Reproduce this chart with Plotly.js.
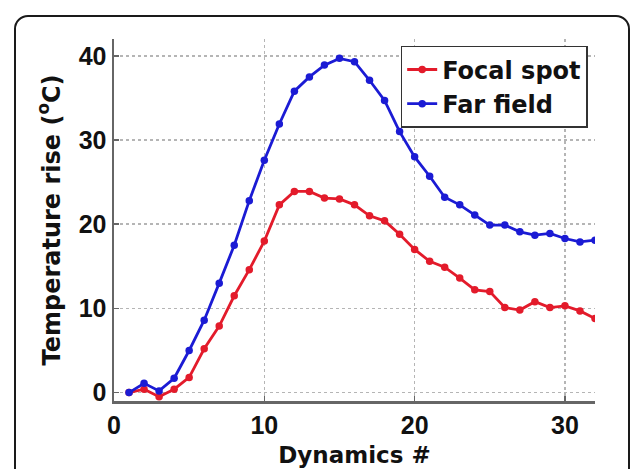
<!DOCTYPE html>
<html>
<head>
<meta charset="utf-8">
<script src="https://cdn.plot.ly/plotly-3.0.1.min.js"></script>
<style>
  html, body { margin: 0; padding: 0; background: #fff; }
  #wrap { position: relative; width: 637px; height: 469px; overflow: hidden; background: #fff; }
  #frame { position: absolute; left: 14px; top: 15px; width: 616px; height: 500px;
           border: 2px solid #1a1a1a; border-radius: 14px; box-sizing: border-box; }
  #chart { position: absolute; left: 0; top: 0; width: 637px; height: 469px; }
</style>
</head>
<body>
<div id="wrap">
  <div id="frame"></div>
  <div id="chart"></div>
</div>
<script>
const dynamics = [1,2,3,4,5,6,7,8,9,10,11,12,13,14,15,16,17,18,19,20,21,22,23,24,25,26,27,28,29,30,31,32];
const focalSpot = [0,0.4,-0.5,0.4,1.8,5.2,7.9,11.5,14.6,18.0,22.3,23.9,23.9,23.1,23.0,22.3,21.0,20.4,18.8,17.0,15.6,14.9,13.6,12.2,12.0,10.1,9.8,10.8,10.1,10.3,9.7,8.8];
const farField = [0,1.1,0.2,1.7,5.0,8.6,13.0,17.5,22.8,27.6,31.9,35.8,37.5,38.9,39.7,39.3,37.1,34.7,31.0,28.0,25.7,23.2,22.3,21.1,19.9,19.9,19.1,18.7,18.9,18.3,17.9,18.1];
const seriesNames = ["Focal spot", "Far field"];
const xTicks = [0,10,20,30];
const yTicks = [0,10,20,30,40];

const TICKFONT = "Liberation Sans, Arial, Helvetica, sans-serif";
const TITLEFONT = "DejaVu Sans, Verdana, sans-serif";
const red = "#e31b2b";
const blue = "#1b1bd4";

const traces = [
  { x: dynamics, y: focalSpot, name: seriesNames[0], legendgroup: "a", type: "scatter", mode: "lines+markers",
    line: { color: red, width: 2.8 }, marker: { color: red, size: 7.5, symbol: "circle" } },
  { x: dynamics, y: farField, name: seriesNames[1], legendgroup: "b", type: "scatter", mode: "lines+markers",
    line: { color: blue, width: 2.8 }, marker: { color: blue, size: 7.5, symbol: "circle" } }
];

const axisCommon = {
  showgrid: true, gridcolor: "#b5b5b5", gridwidth: 1.5, griddash: "dot",
  zeroline: false, showline: true, linecolor: "#666", linewidth: 2.5,
  ticks: "inside", ticklen: 5, tickcolor: "#666", tickwidth: 1.5,
  tickfont: { family: TICKFONT, size: 25, color: "#111", weight: "bold" }
};

const layout = {
  width: 637, height: 469,
  margin: { l: 113.5, r: 41.5, t: 39, b: 68 },
  paper_bgcolor: "rgba(0,0,0,0)", plot_bgcolor: "rgba(0,0,0,0)",
  showlegend: true,
  legend: {
    x: 0.596, y: 0.981, xanchor: "left", yanchor: "top",
    bgcolor: "#fff", bordercolor: "#333", borderwidth: 1.5,
    font: { family: TITLEFONT, size: 24, color: "#111", weight: "bold" },
    itemwidth: 30, traceorder: "grouped", tracegroupgap: 0
  },
  xaxis: Object.assign({}, axisCommon, {
    range: [0, 32], tickvals: xTicks, ticktext: xTicks.map(String),
    title: { text: "Dynamics #", font: { family: TITLEFONT, size: 23, color: "#111", weight: "bold" }, standoff: 10 }
  }),
  yaxis: Object.assign({}, axisCommon, {
    range: [-1, 42], tickvals: yTicks, ticktext: yTicks.map(String),
    title: { text: "Temperature rise (<sup>o</sup>C)", font: { family: TITLEFONT, size: 24, color: "#111", weight: "bold" }, standoff: 12 }
  })
};

Plotly.newPlot("chart", traces, layout, { displayModeBar: false, staticPlot: true });
</script>
</body>
</html>
